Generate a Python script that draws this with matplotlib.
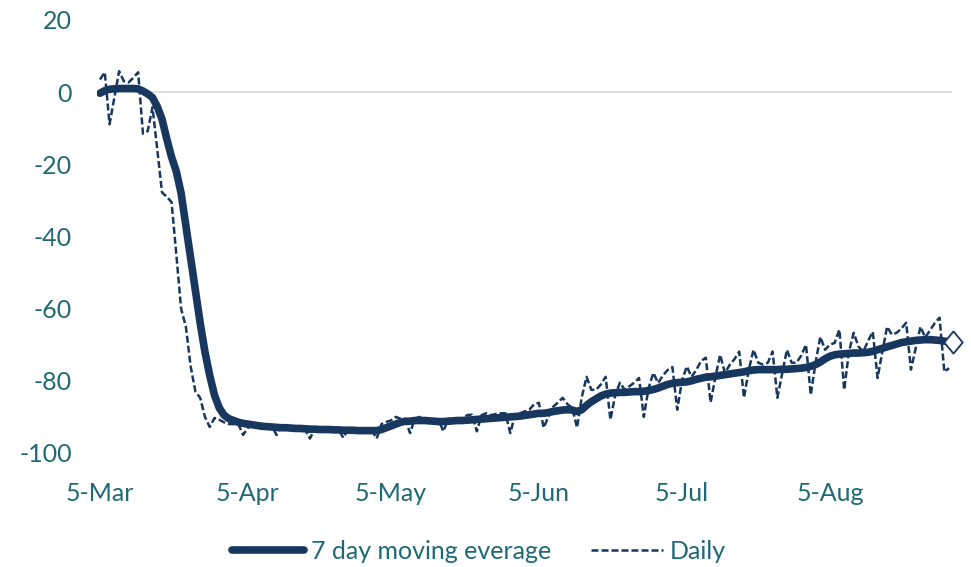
import matplotlib
matplotlib.use("Agg")
import matplotlib.pyplot as plt
import matplotlib.transforms as mtransforms
import pandas as pd

# Daily series and its 7-day moving average (change vs. baseline, %)
start_date = "2020-03-05"

daily = [
    3.5, 5.5,
    -8.9, -1.5, 5.8, 3.0, 2.7, 4.0, 5.5,
    -11.5, -10.8, -4.2, -15.8, -27.8, -29.0, -30.5,
    -45.0, -60.0, -65.0, -76.0, -83.0, -84.7, -90.0,
    -92.8, -90.3, -90.8, -91.5, -92.0, -92.0, -92.0,
    -95.0, -93.0, -92.5, -92.8, -93.0, -93.0, -92.5,
    -95.0, -92.2, -93.0, -93.5, -93.5, -93.5, -93.5,
    -96.0, -93.5, -92.8, -93.5, -93.5, -93.5, -93.5,
    -95.8, -93.5, -93.5, -93.5, -93.8, -93.8, -93.8,
    -96.0, -92.0, -91.4, -91.0, -90.0, -90.5, -90.8,
    -94.5, -90.5, -90.0, -91.0, -91.0, -91.0, -91.0,
    -94.0, -90.5, -91.0, -90.8, -90.5, -89.5, -89.4,
    -94.0, -89.5, -89.0, -89.5, -89.2, -89.0, -89.0,
    -94.5, -89.5, -89.0, -88.5, -88.0, -86.5, -86.1,
    -93.0, -90.0, -87.2, -86.0, -84.7, -86.5, -87.5,
    -93.0, -84.5, -78.9, -82.5, -82.5, -81.0, -78.9,
    -90.8, -84.0, -80.5, -82.5, -81.5, -80.5, -79.2,
    -90.0, -82.0, -77.8, -80.6, -78.5, -77.0, -76.2,
    -88.0, -80.0, -76.0, -78.9, -77.0, -74.5, -73.6,
    -86.0, -79.0, -72.8, -77.8, -75.6, -74.0, -71.9,
    -84.7, -77.0, -71.4, -75.0, -75.5, -75.0, -71.9,
    -84.7, -78.0, -71.4, -75.0, -75.0, -73.0, -70.0,
    -83.9, -75.0, -67.8, -71.4, -70.0, -69.5, -65.8,
    -82.5, -72.0, -66.7, -70.5, -71.9, -69.0, -66.4,
    -79.2, -72.0, -65.0, -67.2, -66.7, -65.5, -63.9,
    -76.9, -71.0, -65.0, -68.0, -66.0, -64.0, -62.5,
    -77.5, -76.5,
]

moving_avg = [
    -0.3, 0.4,
    0.8, 0.9, 1.0, 1.0, 1.0, 1.0, 0.9,
    0.3, -0.5, -1.5, -4.0, -7.5, -13.0, -18.0,
    -22.0, -28.0, -37.0, -46.0, -55.0, -64.0, -72.0,
    -78.5, -84.0, -87.5, -89.5, -90.5, -91.0, -91.5,
    -91.8, -92.0, -92.2, -92.4, -92.6, -92.7, -92.8,
    -92.9, -93.0, -93.0, -93.1, -93.2, -93.2, -93.3,
    -93.4, -93.4, -93.5, -93.5, -93.5, -93.6, -93.6,
    -93.7, -93.7, -93.7, -93.8, -93.8, -93.8, -93.8,
    -93.8, -93.5, -93.0, -92.5, -92.0, -91.5, -91.2,
    -91.2, -91.0, -91.0, -91.0, -91.1, -91.2, -91.3,
    -91.3, -91.2, -91.1, -91.0, -91.0, -90.9, -90.8,
    -90.7, -90.6, -90.5, -90.4, -90.3, -90.2, -90.1,
    -90.0, -89.9, -89.8, -89.6, -89.4, -89.2, -89.0,
    -89.0, -88.8, -88.5, -88.3, -88.1, -88.0, -88.1,
    -88.5, -88.0, -86.8, -85.8, -85.0, -84.2, -83.7,
    -83.4, -83.3, -83.2, -83.2, -83.1, -83.0, -83.0,
    -82.9, -82.7, -82.4, -82.0, -81.5, -81.0, -80.7,
    -80.5, -80.4, -80.3, -80.0, -79.6, -79.3, -79.0,
    -78.9, -78.7, -78.5, -78.3, -78.1, -77.9, -77.7,
    -77.5, -77.2, -77.0, -76.9, -76.9, -76.9, -76.9,
    -76.9, -76.8, -76.8, -76.7, -76.6, -76.5, -76.3,
    -76.0, -75.5, -74.8, -73.9, -73.2, -72.8, -72.6,
    -72.5, -72.4, -72.3, -72.3, -72.2, -72.1, -71.8,
    -71.4, -71.0, -70.6, -70.2, -69.8, -69.4, -69.2,
    -69.0, -68.8, -68.7, -68.6, -68.6, -68.7, -68.8,
    -69.0, -69.2,
]

tick_dates = ["2020-03-05", "2020-04-05", "2020-05-05",
              "2020-06-05", "2020-07-05", "2020-08-05"]
tick_labels = ["5-Mar", "5-Apr", "5-May", "5-Jun", "5-Jul", "5-Aug"]
y_ticks = [-100, -80, -60, -40, -20, 0, 20]

series_names = ["7 day moving everage", "Daily"]

navy = "#17375E"
teal = "#1D6A76"

plt.rcParams["font.family"] = ["Lato", "DejaVu Sans"]

dates = pd.date_range(start_date, periods=len(daily), freq="D")

fig = plt.figure(figsize=(9.71, 5.67), dpi=100)
ax = fig.add_axes([0.0999, 0.2011, 0.8805, 0.7637])

ax.axhline(0, color="#D9D9D9", lw=1.2, zorder=1)

ma_line, = ax.plot(dates, moving_avg, color=navy, lw=5.5,
                   solid_capstyle="round", solid_joinstyle="round",
                   zorder=3, label=series_names[0])
daily_line, = ax.plot(dates, daily, color=navy, lw=1.8,
                      dashes=(2.8, 1.2), zorder=4, label=series_names[1])

# hollow diamond just past the latest moving-average value
diamond = [(0, 1), (0.83, 0), (0, -1), (-0.83, 0), (0, 1)]
nudge = mtransforms.ScaledTranslation(4 / 100, 0, fig.dpi_scale_trans)
ax.plot(dates[-1:], moving_avg[-1:], linestyle="none", marker=diamond,
        markersize=16, markerfacecolor="white", markeredgecolor=navy,
        markeredgewidth=1.3, zorder=5, clip_on=False,
        transform=ax.transData + nudge)

ax.set_xlim(dates[0] - pd.Timedelta(days=0.63),
            dates[0] + pd.Timedelta(days=178.6))
ax.set_ylim(-100, 20)
ax.set_yticks(y_ticks)
ax.set_yticklabels([str(v) for v in y_ticks])
ax.set_xticks(pd.to_datetime(tick_dates))
ax.set_xticklabels(tick_labels)

ax.tick_params(axis="both", length=0, labelsize=18, colors=teal)
ax.tick_params(axis="x", pad=21)
ax.tick_params(axis="y", pad=18)

for side in ("top", "right", "bottom", "left"):
    ax.spines[side].set_visible(False)

fig.legend(handles=[ma_line, daily_line], labels=series_names,
           loc="lower center", bbox_to_anchor=(0.493, -0.033), ncol=2,
           frameon=False, fontsize=18, handlelength=2.9,
           handletextpad=0.25, columnspacing=1.6, labelcolor=teal)

fig.savefig("out.png", dpi=100)
